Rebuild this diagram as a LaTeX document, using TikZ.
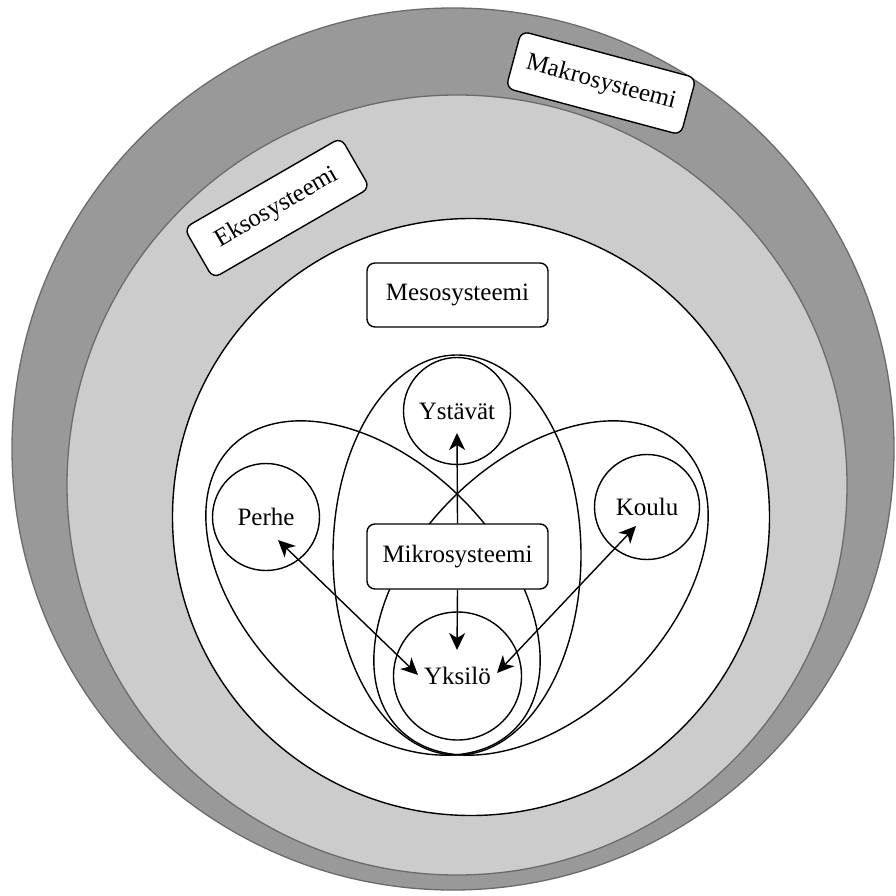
\documentclass[tikz,border=0pt]{standalone}
\usepackage{fontspec}
\setmainfont{Liberation Serif}
\usetikzlibrary{shapes.geometric,arrows.meta}
\definecolor{macrofill}{gray}{0.6}
\definecolor{exofill}{gray}{0.8}
\definecolor{ringline}{gray}{0.42}
\begin{document}
\begin{tikzpicture}[x=1pt,y=-1pt,
  lbl/.style={draw=black, fill=white, rounded corners=8pt, line width=1.4pt, minimum width=181pt, minimum height=62pt, inner sep=0pt, font=\fontsize{25}{30}\selectfont},
  ring/.style={circle, inner sep=0pt, line width=1.3pt},
  member/.style={circle, draw=black, line width=1.4pt, inner sep=0pt, minimum size=107pt, font=\fontsize{25}{30}\selectfont},
  petal/.style={ellipse, draw=black, line width=1.4pt, inner sep=0pt, minimum width=400pt, minimum height=252pt},
  tip/.tip={Stealth[length=17pt,width=16pt,inset=5pt]},
  link/.style={line width=1.4pt, -tip},
  biline/.style={line width=1.4pt, tip-tip}
]
\useasboundingbox (0,0) rectangle (895,896);
% system rings
\node[ring, fill=macrofill, draw=ringline, minimum size=882pt] (makroring) at (453,449) {};
\node[ring, fill=exofill, draw=ringline, minimum size=780pt] (eksoring) at (457,485) {};
\node[ring, fill=white, draw=black, line width=1.4pt, minimum size=597pt] (mesoring) at (471,517) {};
% ring labels
\node[lbl, minimum height=59pt, rotate=-15] (makro) at (601,83) {Makrosysteemi};
\node[lbl, minimum height=58pt, rotate=30] (ekso) at (277,208) {Eksosysteemi};
\node[lbl, minimum height=64pt] (meso) at (457.5,295) {Mesosysteemi};
% microsystem shapes
\node[ellipse, draw=black, line width=1.4pt, inner sep=0pt, minimum width=248pt, minimum height=400pt] (ystell) at (457,555) {};
\node[petal, rotate=-45] (perheell) at (373,588) {};
\node[petal, rotate=45] (kouluell) at (541,588) {};
\node[member] (ystavat) at (457,411) {Ystävät};
\node[member] (perhe) at (266,517) {Perhe};
\node[member, minimum size=105pt] (koulu) at (647,507) {Koulu};
\node[member, minimum size=128pt] (yksilo) at (457.5,676) {Yksilö};
\node[lbl, minimum height=65pt] (mikro) at (457.5,556.5) {Mikrosysteemi};
% arrow end points
\coordinate (ysttip) at (457,433);
\coordinate (ykstip) at (457,650);
\coordinate (perhetip) at (278,540);
\coordinate (yksleft) at (418,675);
\coordinate (koulutip) at (636,526);
\coordinate (yksright) at (497,673);
% connectors
\draw[link] (mikro.north) -- (ysttip);
\draw[link] (mikro.south) -- (ykstip);
\draw[biline] (perhetip) -- (yksleft);
\draw[biline] (koulutip) -- (yksright);
\end{tikzpicture}
\end{document}
